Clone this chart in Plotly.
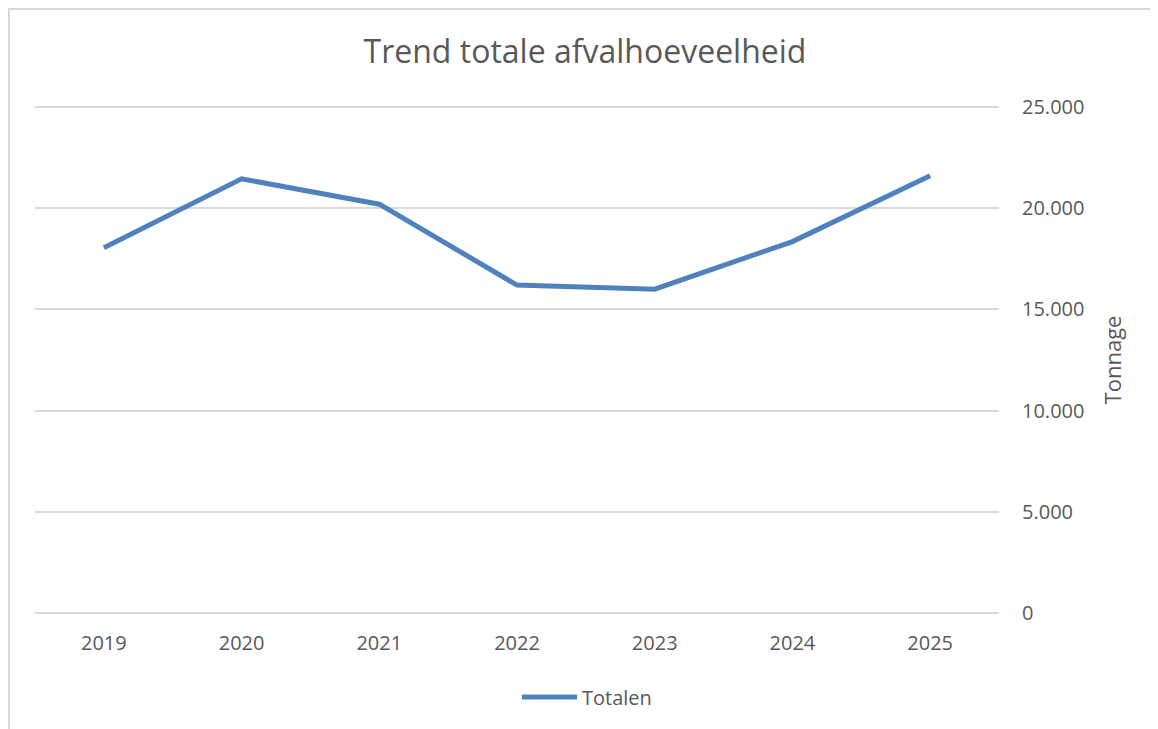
import plotly.graph_objects as go

years = ["2019", "2020", "2021", "2022", "2023", "2024", "2025"]
totalen = [18050, 21450, 20200, 16200, 16000, 18350, 21600]
y_ticks = [0, 5000, 10000, 15000, 20000, 25000]
y_range = [-100, 25100]

# page has an 8px body margin, so work in page coords minus 8
OFF = 8
W, H = 1158 - OFF, 729 - OFF
L, T = 35 - OFF, 105 - OFF
PR, PB = 999 - OFF, 615 - OFF
R, B = W - PR, H - PB
pw = PR - L
ph = PB - T

fig = go.Figure()
fig.add_trace(go.Scatter(
    x=years, y=totalen, mode="lines", name="Totalen",
    line=dict(color="#4F81BD", width=5),
))

FS = 20
fig.update_layout(
    width=W, height=H,
    margin=dict(l=L, r=R, t=T, b=B),
    paper_bgcolor="white", plot_bgcolor="white",
    separators=",.",
    font=dict(family="Open Sans, Noto Sans, sans-serif", color="#595959", size=FS),
    title=dict(text="Trend totale afvalhoeveelheid", x=(585 - OFF) / W, xanchor="center",
               y=1 - (52 - OFF) / H, yanchor="middle",
               font=dict(size=32, color="#595959")),
    xaxis=dict(type="category", range=[-0.5, 6.5], showgrid=False, showline=False,
               zeroline=False, ticks="", tickfont=dict(size=FS, color="#595959"),
               ticklabelstandoff=14),
    yaxis=dict(side="right", range=y_range, tickvals=y_ticks, tickformat=",d",
               gridcolor="#D9D9D9", gridwidth=2, zeroline=False, showline=False,
               ticks="", ticklabelstandoff=22,
               tickfont=dict(size=FS, color="#595959"),
               title=dict(text="Tonnage", font=dict(size=22, color="#595959"), standoff=22)),
    showlegend=True,
    legend=dict(orientation="h", x=(587 - OFF - L) / pw, xanchor="center",
                y=-(697 - 615) / ph, yanchor="middle",
                font=dict(size=FS, color="#595959"), itemwidth=55,
                bgcolor="rgba(0,0,0,0)"),
)

bx = (1 - L) / pw
by_top = (PB - 1) / ph
fig.add_shape(type="path", xref="paper", yref="paper",
              path=f"M {bx},{-(H - PB) / ph - 0.02} L {bx},{by_top} L {(W + 5 - L) / pw},{by_top}",
              line=dict(color="#D9D9D9", width=2), layer="below")

fig.write_html("out.html")
